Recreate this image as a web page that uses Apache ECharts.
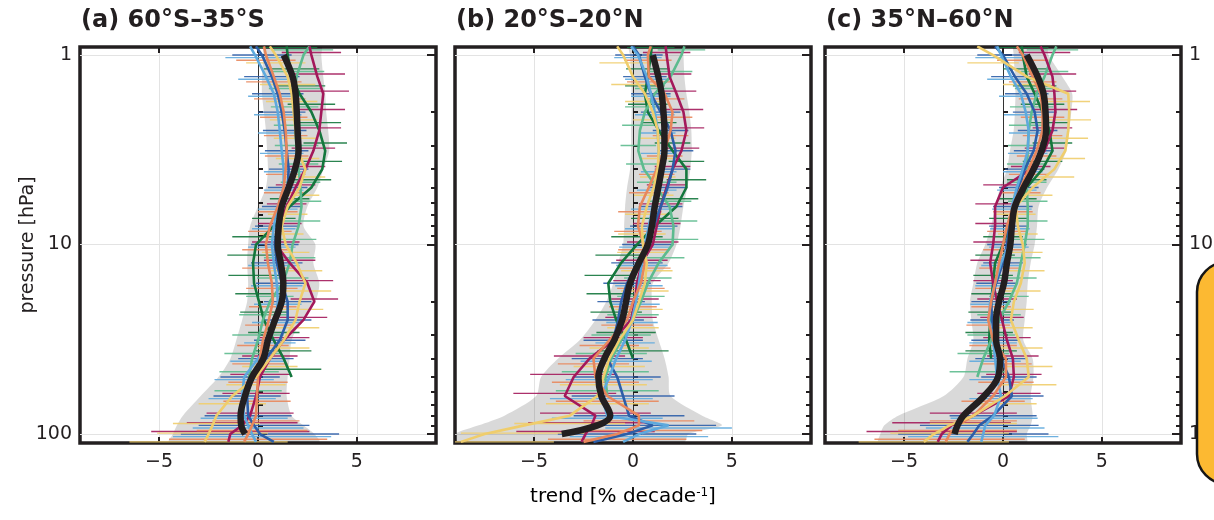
<!DOCTYPE html>
<html>
<head>
<meta charset="utf-8">
<script src="https://cdn.jsdelivr.net/npm/echarts@6/dist/echarts.min.js"></script>
<style>
  html, body { margin: 0; padding: 0; background: #fff; }
  #chart { width: 1214px; height: 520px; }
</style>
</head>
<body>
<div id="chart"></div>
<script>
// pressure levels [hPa]
const LEVELS = [0.9, 1, 1.3, 1.6, 2, 2.5, 3.2, 4, 5, 6.3, 8, 10, 12.5, 16, 20, 25, 32, 40, 50, 63, 80, 90, 100, 110];
const X_TICKS = [-5, 0, 5];
const Y_MAJOR = [1, 10, 100];
const Y_MINOR = [2, 3, 4, 5, 6, 7, 8, 9, 20, 30, 40, 50, 60, 70, 80, 90];
const COLORS = ['#14773d', '#5dbb8e', '#a3195b', '#2c5ea8', '#5ea9dd', '#e8875c', '#efcd6c'];

// (a) 60S-35S, trend [% / decade]
const a_dkgreen = [1.45, 1.5, 1.7, 2.1, 2.7, 3.1, 3.4, 3.25, 2.7, 1.6, 0.8, -0.1, -0.25, -0.2, 0.05, 0.3, 0.8, 1.3, 1.7, null, null, null, null, null];
const a_teal = [2.6, 2.3, 1.95, 1.85, 1.85, 1.9, 1.95, 2.05, 2.15, 2.2, 2.05, 1.75, 1.6, 1.25, 0.6, 0.25, 0.0, -0.3, -0.45, -0.5, null, null, null, null];
const a_magenta = [2.6, 2.7, 3.0, 3.3, 3.2, 3.1, 2.8, 2.4, 1.9, 1.45, 1.1, 0.9, 1.6, 2.5, 2.85, 2.3, 1.3, 0.6, 0.1, -0.1, -0.4, -0.8, -1.4, -1.5];
const a_dkblue = [-0.1, 0.2, 0.7, 1.0, 1.2, 1.35, 1.45, 1.55, 1.5, 1.2, 0.95, 0.85, 0.95, 1.2, 1.5, 1.5, 1.1, 0.4, -0.4, -0.55, -0.5, -0.2, 0.1, 0.8];
const a_ltblue = [-0.4, -0.15, 0.4, 0.8, 1.0, 1.1, 1.2, 1.3, 1.3, 1.0, 0.8, 0.7, 0.8, 0.95, 1.0, 0.9, 0.6, 0.0, -0.7, -0.8, -0.7, -0.5, -0.3, -0.1];
const a_orange = [0.3, 0.4, 0.8, 1.1, 1.3, 1.4, 1.45, 1.4, 1.3, 1.0, 0.6, 0.4, 0.5, 0.7, 0.75, 0.55, 0.25, 0.1, 0.0, -0.05, -0.1, -0.3, -0.5, -0.7];
const a_yellow = [0.6, 0.9, 1.5, 1.7, 1.8, 1.9, 2.0, 2.4, 2.1, 1.5, 1.2, 1.4, 1.95, 2.4, 2.1, 1.9, 1.3, 0.6, -0.1, -1.3, -2.1, -2.3, -2.5, -2.7];
const a_mean = [null, 1.3, 1.75, 1.9, 1.96, 2.0, 2.05, 1.87, 1.55, 1.2, 1.05, 1.0, 1.15, 1.28, 1.2, 0.86, 0.5, 0.27, -0.3, -0.66, -0.88, -0.85, -0.65, null];
const a_low = [0.3, 0.27, 0.2, 0.2, 0.3, 0.4, 0.46, 0.5, 0.4, 0.0, -0.4, -0.5, -0.55, -0.5, -0.55, -0.8, -1.1, -1.4, -2.0, -2.9, -3.8, -4.1, -4.3, -4.5];
const a_high = [3.2, 3.2, 3.3, 3.4, 3.45, 3.55, 3.6, 3.3, 3.0, 2.5, 2.3, 2.9, 2.8, 3.1, 2.9, 2.2, 1.7, 1.6, 1.5, 1.45, 1.7, 2.3, 2.85, 3.1];
const a_err = [null, 1.5, 1.4, 1.3, 1.2, 1.1, 1.1, 1.0, 1.0, 1.0, 1.1, 1.2, 1.3, 1.3, 1.2, 1.2, 1.3, 1.4, 1.5, 1.7, 2.2, 2.8, 4.0, null];

// (b) 20S-20N
const b_dkgreen = [0.95, 0.9, 0.75, 0.6, 0.75, 1.3, 2.0, 2.7, 2.7, 2.2, 1.1, 0.2, -0.6, -1.25, -1.15, -0.85, -0.35, 0.0, null, null, null, null, null, null];
const b_teal = [2.6, 2.45, 1.9, 1.1, 0.6, 0.35, 0.27, 0.55, 1.2, 1.85, 2.05, 2.0, 1.3, 0.75, 0.4, 0.0, -0.6, -1.1, -1.4, -1.3, null, null, null, null];
const b_magenta = [1.65, 1.7, 1.85, 2.2, 2.55, 2.7, 2.45, 2.0, 1.7, 1.4, 1.2, 1.0, 0.45, 0.2, 0.1, -0.1, -1.0, -2.2, -3.0, -3.45, -1.9, -2.1, -2.4, -2.6];
const b_dkblue = [0.0, 0.3, 0.6, 0.9, 1.4, 1.9, 2.15, 2.0, 1.75, 1.4, 1.05, 0.75, 0.2, -0.3, -0.6, -0.75, -1.0, -1.3, -0.8, -0.5, -0.2, 1.0, -0.3, -2.0];
const b_ltblue = [-0.1, 0.25, 0.7, 0.9, 1.1, 1.25, 1.3, 1.3, 1.2, 1.0, 0.8, 0.6, 0.45, 0.3, 0.15, -0.05, -0.4, -0.85, -1.2, -1.6, -1.3, 1.8, 0.3, -0.5];
const b_orange = [0.9, 0.75, 0.8, 1.6, 2.0, 1.9, 1.6, 1.2, 0.8, 0.35, 0.25, 0.55, 0.6, 0.4, 0.0, -0.3, -1.2, -2.0, -1.9, -1.3, 0.3, 0.3, -0.8, -2.5];
const b_yellow = [-0.8, -0.5, 0.0, 0.6, 1.0, 1.25, 1.3, 1.25, 1.05, 0.7, 0.45, 0.5, 0.7, 0.6, 0.3, 0.0, -0.7, -1.2, -1.5, -1.8, -3.2, -5.5, -7.5, -8.7];
const b_mean = [null, 1.0, 1.28, 1.45, 1.54, 1.59, 1.59, 1.45, 1.28, 1.1, 0.95, 0.75, 0.3, -0.15, -0.35, -0.55, -0.95, -1.45, -1.75, -1.6, -1.15, -1.8, -3.6, null];
const b_low = [-0.2, -0.15, -0.1, -0.07, -0.07, -0.1, -0.1, -0.15, -0.3, -0.4, -0.45, -0.5, -0.75, -1.0, -1.35, -1.9, -2.7, -3.8, -4.65, -4.9, -6.5, -7.8, -9.0, -9.0];
const b_high = [2.5, 2.55, 2.6, 2.7, 2.85, 2.95, 2.97, 2.9, 2.75, 2.55, 2.4, 2.2, 1.8, 1.0, 0.95, 1.0, 1.3, 1.6, 1.8, 1.9, 3.5, 4.5, 2.8, 2.6];
const b_err = [null, 1.2, 1.1, 1.0, 1.0, 0.9, 0.9, 0.9, 1.0, 1.1, 1.2, 1.3, 1.3, 1.2, 1.2, 1.3, 1.5, 1.8, 2.2, 2.6, 2.8, 3.2, 3.5, null];

// (c) 35N-60N
const c_dkgreen = [0.95, 1.0, 1.2, 1.6, 2.0, 2.35, 2.5, 2.0, 1.2, 0.7, 0.3, 0.0, -0.4, -0.5, -0.6, -0.65, -0.7, -0.6, null, null, null, null, null, null];
const c_teal = [2.7, 2.5, 2.1, 1.7, 1.45, 1.3, 1.25, 1.2, 1.2, 1.25, 1.25, 1.1, 0.9, 0.7, 0.3, -0.2, -0.6, -1.0, -1.3, null, null, null, null, null];
const c_magenta = [1.9, 2.1, 2.5, 2.6, 2.65, 2.5, 2.1, 1.4, 0.0, -0.4, -0.4, -0.5, -0.65, -0.5, -0.3, -0.05, 0.2, 0.5, 0.55, 0.3, -1.5, -2.6, -3.1, -3.3];
const c_dkblue = [-0.4, 0.0, 0.6, 1.2, 1.6, 1.75, 1.55, 1.1, 0.8, 0.5, 0.3, 0.2, 0.0, -0.35, -0.6, -0.55, -0.4, -0.1, 0.3, 0.45, -0.5, -1.2, -1.5, -1.8];
const c_ltblue = [-0.3, -0.1, 0.4, 0.9, 1.15, 1.3, 1.25, 1.0, 0.7, 0.45, 0.35, 0.3, -0.1, -0.4, -0.65, -0.7, -0.5, -0.4, -0.3, -0.1, -0.45, -0.9, -1.0, -1.1];
const c_orange = [0.7, 1.0, 1.5, 1.9, 2.0, 2.0, 1.7, 1.3, 0.9, 0.5, 0.2, 0.0, -0.2, -0.4, -0.6, -0.75, -0.5, 0.15, 0.15, -0.5, -1.5, -2.3, -2.7, -2.9];
const c_yellow = [-1.3, -0.5, 1.2, 3.3, 3.35, 3.3, 3.15, 2.6, 1.5, 0.65, 0.75, 1.0, 1.1, 0.9, 0.55, 0.4, 0.8, 1.2, 1.3, 0.1, -1.5, -2.7, -3.5, -4.0];
const c_mean = [null, 1.2, 1.75, 2.05, 2.15, 2.18, 1.95, 1.55, 1.05, 0.6, 0.45, 0.37, 0.2, 0.05, -0.2, -0.35, -0.35, -0.15, -0.25, -0.95, -2.0, -2.3, -2.45, null];
const c_low = [0.55, 0.54, 0.6, 0.63, 0.6, 0.54, 0.35, 0.2, -0.14, -0.4, -0.6, -0.9, -1.3, -1.5, -1.67, -1.6, -1.5, -1.8, -2.0, -3.0, -5.3, -6.0, -6.2, -6.3];
const c_high = [2.2, 2.3, 3.0, 3.5, 3.45, 3.35, 3.2, 2.8, 2.23, 1.8, 1.72, 1.6, 1.4, 1.25, 1.2, 1.1, 1.03, 1.5, 1.54, 1.4, 1.5, 1.4, 1.2, 1.2];
const c_err = [null, 1.3, 1.2, 1.1, 1.1, 1.0, 1.0, 1.0, 1.0, 1.0, 1.0, 1.0, 1.0, 1.0, 1.0, 1.1, 1.2, 1.3, 1.4, 1.6, 2.2, 3.0, 3.8, null];

const FONT = '"DejaVu Sans", sans-serif';
const INK = '#231f20';

const panels = [
  { title: '(a) 60°S–35°S', left: 80, lines: [a_dkgreen, a_teal, a_magenta, a_dkblue, a_ltblue, a_orange, a_yellow],
    mean: a_mean, low: a_low, high: a_high, err: a_err, leftLabels: true, rightLabels: false },
  { title: '(b) 20°S–20°N', left: 455, lines: [b_dkgreen, b_teal, b_magenta, b_dkblue, b_ltblue, b_orange, b_yellow],
    mean: b_mean, low: b_low, high: b_high, err: b_err, leftLabels: false, rightLabels: false },
  { title: '(c) 35°N–60°N', left: 825, lines: [c_dkgreen, c_teal, c_magenta, c_dkblue, c_ltblue, c_orange, c_yellow],
    mean: c_mean, low: c_low, high: c_high, err: c_err, leftLabels: false, rightLabels: true }
];

const tickStyle = { color: INK, width: 2 };
const labelStyle = { fontSize: 19, color: INK, fontFamily: FONT };
const grids = [], xAxes = [], yAxes = [], series = [], titles = [];

function yAxis(g, pos, ticks, len, labels, split) {
  return {
    gridIndex: g, type: 'log', logBase: 10, min: 0.907, max: 111.5, inverse: true, position: pos,
    axisLine: { show: false },
    axisTick: { show: true, inside: true, length: len, customValues: ticks, lineStyle: tickStyle },
    axisLabel: { show: labels, customValues: Y_MAJOR, margin: 8, ...labelStyle },
    splitLine: { show: split, lineStyle: { color: '#e3e3e3', width: 1 } }
  };
}

panels.forEach((p, g) => {
  grids.push({ left: p.left, top: 47, width: 356, height: 396, show: true, outerBoundsMode: 'none',
    containLabel: false, borderColor: INK, borderWidth: 3.5, backgroundColor: 'transparent' });
  titles.push({ text: p.title, left: p.left + 1, top: 9, padding: 0,
    textStyle: { fontSize: 24, fontWeight: 'bold', color: INK, fontFamily: FONT } });

  xAxes.push({
    gridIndex: g, type: 'value', min: -9, max: 9, position: 'bottom',
    axisLine: { show: false },
    axisTick: { show: true, inside: true, length: 6, customValues: X_TICKS, lineStyle: tickStyle },
    axisLabel: { customValues: X_TICKS, margin: 10, ...labelStyle,
      formatter: v => (v < 0 ? '−' + Math.abs(v) : String(v)) },
    splitLine: { show: true, lineStyle: { color: ['#e3e3e3', '#333333', '#e3e3e3'], width: 1 } }
  });
  xAxes.push({
    gridIndex: g, type: 'value', min: -9, max: 9, position: 'top',
    axisLine: { show: false },
    axisTick: { show: true, inside: true, length: 6, customValues: X_TICKS, lineStyle: tickStyle },
    axisLabel: { show: false }, splitLine: { show: false }
  });

  yAxes.push(yAxis(g, 'left', Y_MAJOR, 9, p.leftLabels, true));
  yAxes.push(yAxis(g, 'left', Y_MINOR, 5, false, false));
  yAxes.push(yAxis(g, 'right', Y_MAJOR, 9, p.rightLabels, false));
  yAxes.push(yAxis(g, 'right', Y_MINOR, 5, false, false));

  const xi = 2 * g, yi = 4 * g;

  // spread band
  series.push({
    type: 'custom', xAxisIndex: xi, yAxisIndex: yi, z: 1, silent: true, clip: true,
    data: [[0, 1]],
    renderItem: (params, api) => {
      const pts = [];
      LEVELS.forEach((lv, i) => pts.push(api.coord([p.low[i], lv])));
      for (let i = LEVELS.length - 1; i >= 0; i--) pts.push(api.coord([p.high[i], LEVELS[i]]));
      return { type: 'polygon', shape: { points: pts, smooth: 0.25 },
        style: { fill: 'rgba(0,0,0,0.15)', stroke: 'none' } };
    }
  });

  p.lines.forEach((vals, k) => {
    const off = (k - 3) * 2.6;
    const color = COLORS[k];
    // error bars
    series.push({
      type: 'custom', xAxisIndex: xi, yAxisIndex: yi, z: 2, silent: true, clip: true,
      data: LEVELS.map((lv, i) => [vals[i], lv, p.err[i]]).filter(d => d[0] !== null && d[2] !== null),
      renderItem: (params, api) => {
        const x = api.value(0), lv = api.value(1), e = api.value(2);
        const s = api.coord([x - e, lv]), t = api.coord([x + e, lv]);
        return { type: 'line', shape: { x1: s[0], y1: s[1] + off, x2: t[0], y2: t[1] + off },
          style: { stroke: color, lineWidth: 1.4, opacity: 0.9 } };
      }
    });
    // profile
    series.push({
      type: 'line', xAxisIndex: xi, yAxisIndex: yi, z: 3, silent: true,
      data: LEVELS.map((lv, i) => [vals[i], lv]).filter(d => d[0] !== null),
      showSymbol: false, lineStyle: { color: color, width: 2.6 }, itemStyle: { color: color }
    });
  });

  // mean profile
  series.push({
    type: 'line', xAxisIndex: xi, yAxisIndex: yi, z: 4, silent: true, smooth: 0.35,
    data: LEVELS.map((lv, i) => [p.mean[i], lv]).filter(d => d[0] !== null),
    showSymbol: false, lineStyle: { color: INK, width: 6.5, cap: 'butt' }, itemStyle: { color: INK }
  });
});

const chart = echarts.init(document.getElementById('chart'));
chart.setOption({
  animation: false,
  backgroundColor: '#fff',
  title: titles,
  grid: grids,
  xAxis: xAxes,
  yAxis: yAxes,
  series: series,
  graphic: [
    { type: 'text', x: 28, y: 245, rotation: Math.PI / 2, z: 50,
      style: { text: 'pressure [hPa]', fontSize: 19, fontFamily: FONT, fill: INK, align: 'center', verticalAlign: 'middle' } },
    { type: 'text', x: 623, y: 497, z: 50,
      style: { text: '{a|trend [% decade}{s|-1}{a|]}', align: 'center', verticalAlign: 'middle',
        rich: { a: { fontSize: 20, fontFamily: FONT, color: INK },
                s: { fontSize: 12, fontFamily: FONT, color: INK, verticalAlign: 'top' } } } },
    { type: 'rect', z: 100, shape: { x: 1197, y: 262, width: 90, height: 222, r: 30 },
      style: { fill: '#fcb932', stroke: '#161616', lineWidth: 2.5 } }
  ]
});
</script>
</body>
</html>
